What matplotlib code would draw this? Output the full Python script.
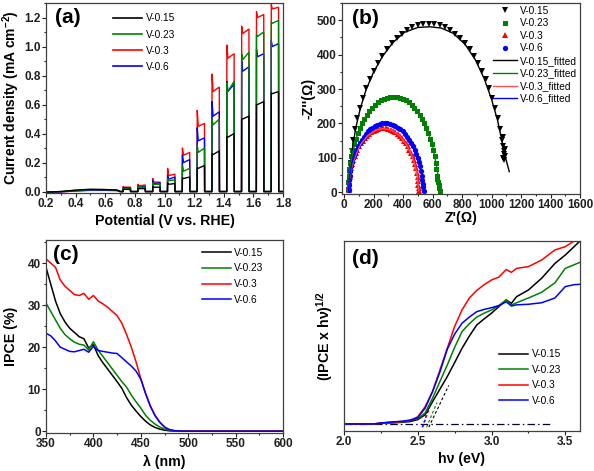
import matplotlib
matplotlib.use("Agg")
import matplotlib.pyplot as plt
from matplotlib.ticker import MultipleLocator, NullLocator
from matplotlib.lines import Line2D

plt.rcParams['font.family'] = ['Liberation Sans', 'DejaVu Sans']
plt.rcParams['font.weight'] = 'bold'
plt.rcParams['mathtext.fontset'] = 'custom'
plt.rcParams['mathtext.rm'] = 'Liberation Sans:bold'
plt.rcParams['mathtext.bf'] = 'Liberation Sans:bold'
plt.rcParams['mathtext.default'] = 'bf'

C_BLACK, C_GREEN, C_RED, C_BLUE = '#000000', '#008000', '#ff0000', '#0000ff'
labels = ['V-0.15', 'V-0.23', 'V-0.3', 'V-0.6']

# ---------------- (a) chopped LSV ----------------
bump_E = [0.2, 0.3, 0.4, 0.5, 0.6, 0.68]
bump_black = [-0.004, 0.0, 0.010, 0.016, 0.014, 0.010]
bump_green = [-0.004, 0.0, 0.008, 0.013, 0.013, 0.010]
bump_red = [-0.004, -0.002, 0.004, 0.008, 0.008, 0.006]
bump_blue = [-0.004, -0.002, 0.005, 0.010, 0.010, 0.008]
pulse_on = [0.72, 0.82, 0.92, 1.02, 1.12, 1.22, 1.32, 1.42, 1.52, 1.62, 1.72]
red_spike = [0.035, 0.05, 0.09, 0.16, 0.30, 0.56, 0.81, 1.01, 1.14, 1.24, 1.29]
red_dip = [0.03, 0.04, 0.065, 0.11, 0.25, 0.45, 0.69, 0.92, 1.09, 1.20, 1.26]
red_end = [0.03, 0.045, 0.065, 0.12, 0.27, 0.47, 0.72, 0.95, 1.12, 1.22, 1.27]
blue_spike = [0.03, 0.04, 0.075, 0.11, 0.25, 0.44, 0.62, 0.76, 0.90, 0.98, 1.04]
blue_dip = [0.025, 0.03, 0.055, 0.085, 0.20, 0.35, 0.52, 0.69, 0.83, 0.93, 1.00]
blue_end = [0.025, 0.035, 0.06, 0.10, 0.22, 0.37, 0.55, 0.74, 0.86, 0.95, 1.02]
green_spike = [0.02, 0.035, 0.06, 0.09, 0.18, 0.32, 0.50, 0.75, 0.95, 1.08, 1.17]
green_dip = [0.018, 0.03, 0.05, 0.075, 0.14, 0.27, 0.46, 0.69, 0.91, 1.07, 1.16]
green_end = [0.02, 0.03, 0.05, 0.08, 0.16, 0.30, 0.50, 0.76, 0.96, 1.10, 1.18]
black_spike = [0.015, 0.02, 0.035, 0.06, 0.095, 0.165, 0.26, 0.38, 0.50, 0.60, 0.68]
black_dip = [0.015, 0.02, 0.03, 0.05, 0.09, 0.16, 0.255, 0.375, 0.50, 0.60, 0.675]
black_end = [0.015, 0.02, 0.03, 0.055, 0.10, 0.18, 0.28, 0.40, 0.52, 0.62, 0.69]
pulse_width = 0.05

# ---------------- (b) Nyquist ----------------
b15_x = [35, 38, 43, 51, 61, 74, 90, 107, 127, 149, 174, 200, 228, 258, 289, 321, 355, 390, 426, 463, 500, 537,
         575, 611, 647, 683, 718, 753, 786, 819, 851, 881, 909, 936, 961, 985, 1006, 1025, 1042, 1057, 1070,
         1076, 1082, 1085, 1080, 1088, 1083, 1090, 1078]
b15_y = [17, 51, 85, 119, 151, 184, 215, 245, 274, 302, 328, 352, 375, 396, 416, 433, 448, 460, 471, 479, 485, 489,
         490, 489, 485, 479, 471, 460, 448, 433, 416, 396, 375, 352, 328, 302, 274, 245, 215, 184, 151,
         135, 120, 110, 100, 105, 95, 125, 160]
b23_x = [25, 27, 30, 34, 40, 48, 56, 67, 78, 91, 105, 120, 136, 153, 171, 189, 209, 229, 250, 271, 292, 313,
         335, 356, 377, 397, 418, 438, 457, 476, 494, 511, 528, 543, 558, 571, 584, 595, 605, 613, 620, 626, 630,
         633, 636, 640, 645, 648]
b23_y = [10, 29, 48, 67, 86, 104, 122, 139, 155, 171, 186, 200, 213, 225, 236, 245, 254, 261, 267, 272, 275, 277,
         278, 277, 275, 272, 267, 261, 254, 245, 236, 225, 213, 200, 186, 171, 155, 139, 122, 104, 86, 67, 48,
         40, 30, 20, 12, 5]
b3_x = [30, 31, 34, 37, 42, 47, 54, 62, 70, 80, 90, 102, 114, 127, 141, 155, 169, 185, 200, 216, 232, 249,
        265, 282, 298, 315, 331, 347, 363, 378, 392, 406, 419, 432, 443, 454, 464, 473, 481, 488, 493, 498, 501,
        503, 505, 507]
b3_y = [6, 19, 32, 45, 57, 70, 82, 93, 104, 115, 124, 134, 142, 150, 158, 164, 170, 175, 179, 182, 184, 186,
        186, 186, 184, 182, 179, 175, 170, 164, 158, 150, 142, 134, 124, 115, 104, 93, 82, 70, 57, 45, 32,
        22, 12, 3]
b6_x = [30, 31, 34, 37, 42, 48, 55, 63, 72, 82, 93, 105, 118, 131, 145, 160, 175, 191, 207, 224, 241, 258,
        275, 293, 311, 329, 347, 364, 381, 397, 413, 428, 442, 456, 468, 480, 490, 500, 509, 516, 522, 527, 531,
        534, 537, 540]
b6_y = [7, 21, 35, 48, 62, 75, 88, 100, 112, 123, 134, 144, 153, 162, 170, 177, 183, 188, 192, 196, 198, 200,
        200, 200, 198, 196, 192, 188, 183, 177, 170, 162, 153, 144, 134, 123, 112, 100, 88, 75, 62, 48, 35,
        25, 15, 5]
f15_x = [28, 35, 45, 60, 80, 110, 150, 200, 260, 330, 410, 500, 580, 660, 740, 820, 890, 950, 1000, 1040, 1070, 1095, 1120]
f15_y = [0, 40, 90, 140, 190, 245, 300, 350, 395, 435, 465, 479, 481, 477, 462, 430, 385, 330, 270, 210, 150, 100, 60]
f23_x = [22, 30, 50, 80, 120, 170, 230, 300, 340, 400, 460, 510, 560, 600, 625, 640, 650]
f23_y = [0, 50, 100, 155, 200, 236, 262, 276, 278, 272, 255, 226, 186, 135, 80, 40, 10]
f3_x = [28, 35, 50, 75, 110, 160, 215, 265, 320, 375, 420, 455, 480, 497, 505]
f3_y = [0, 35, 72, 105, 138, 165, 181, 185, 181, 165, 140, 112, 80, 45, 5]
f6_x = [28, 35, 50, 75, 110, 160, 220, 275, 330, 390, 440, 480, 510, 528, 538]
f6_y = [0, 40, 80, 115, 148, 177, 195, 199, 195, 180, 152, 120, 85, 45, 5]

# ---------------- (c) IPCE ----------------
wl = [350, 355, 360, 365, 370, 375, 380, 385, 390, 395, 400, 405, 410, 415, 420, 425, 430, 435, 440, 445,
      450, 455, 460, 465, 470, 475, 480, 485, 490, 500, 550, 600]
ipce_015 = [39, 35, 31, 28, 26, 24.5, 23.5, 22.5, 22, 19.8, 20.6, 18, 16.3, 14.8, 13.3, 11.8, 10.2, 8, 6.2, 4.8,
            3.5, 2.4, 1.5, 0.9, 0.5, 0.25, 0.1, 0.03, 0, 0, 0, 0]
ipce_023 = [30.5, 28.5, 26.5, 24.5, 23, 22, 21.2, 20.7, 20.5, 19.3, 21.3, 19.3, 17.8, 16.3, 14.8, 13.3, 11.8, 10.5,
            8.6, 7, 5.5, 3.8, 2.6, 1.7, 1.0, 0.5, 0.2, 0.07, 0, 0, 0, 0]
ipce_03 = [41, 40, 39, 36, 34.5, 33.5, 32.5, 32.3, 32.8, 31.4, 32.3, 31, 30.3, 29.5, 28.5, 27.5, 25.7, 23, 20,
           16.5, 12.5, 9, 6, 3.8, 2.2, 1.0, 0.4, 0.15, 0.05, 0, 0, 0]
ipce_06 = [23.3, 22.7, 21.5, 20, 19.5, 19, 18.9, 19.2, 19.5, 18.8, 20.2, 19.2, 19, 18.8, 18.6, 18.5, 17.5, 16.5,
           15.5, 14.3, 12.4, 9, 6, 3.7, 2.1, 1.0, 0.4, 0.15, 0.05, 0, 0, 0]

# ---------------- (d) Tauc-like ----------------
hv = [2.0, 2.2, 2.25, 2.3, 2.4, 2.45, 2.5, 2.55, 2.6, 2.65, 2.7, 2.75, 2.8, 2.85, 2.9, 2.95, 3.0, 3.05, 3.1,
      3.135, 3.17, 3.25, 3.34, 3.43, 3.5, 3.56, 3.6]
t_015 = [0.037, 0.037, 0.040, 0.042, 0.046, 0.050, 0.060, 0.085, 0.154, 0.22, 0.286, 0.36, 0.435, 0.50, 0.558,
         0.59, 0.62, 0.655, 0.69, 0.672, 0.707, 0.742, 0.804, 0.882, 0.926, 0.97, 1.0]
t_023 = [0.037, 0.037, 0.041, 0.043, 0.048, 0.055, 0.065, 0.095, 0.172, 0.26, 0.347, 0.44, 0.523, 0.565, 0.60,
         0.62, 0.637, 0.66, 0.69, 0.663, 0.675, 0.70, 0.73, 0.78, 0.856, 0.875, 0.888]
t_03 = [0.037, 0.037, 0.041, 0.045, 0.05, 0.055, 0.075, 0.128, 0.207, 0.32, 0.435, 0.55, 0.637, 0.70, 0.74,
        0.77, 0.795, 0.81, 0.85, 0.835, 0.856, 0.865, 0.90, 0.953, 0.97, 1.0, 1.02]
t_06 = [0.037, 0.037, 0.042, 0.046, 0.052, 0.058, 0.07, 0.12, 0.207, 0.31, 0.43, 0.51, 0.567, 0.60, 0.628,
        0.64, 0.649, 0.66, 0.68, 0.658, 0.664, 0.667, 0.675, 0.70, 0.76, 0.77, 0.772]
tan_x0 = [2.575, 2.56, 2.535, 2.53]
tan_y0 = [0.02, 0.02, 0.02, 0.02]
tan_x1 = [2.71, 2.63, 2.58, 2.57]
tan_y1 = [0.24, 0.15, 0.12, 0.11]
base_x = [2.0, 3.42]
base_y = [0.037, 0.037]

# ====================================================
fig = plt.figure(figsize=(5.94, 4.71), dpi=100)
W, H = 594, 471


def add_ax(l, r, t, b):
    return fig.add_axes([l / W, (H - b) / H, (r - l) / W, (b - t) / H])


axa = add_ax(46, 283, 3, 193)
axb = add_ax(342, 580, 3, 194)
axc = add_ax(46, 283, 240, 432.5)
axd = add_ax(344, 580, 241, 431)

TICK_FS = 8.5
LAB_FS = 10.2
LEG_FS = 7.3
SPINE_C = '#404040'


def style(ax):
    for s in ax.spines.values():
        s.set_color(SPINE_C)
        s.set_linewidth(0.9)
    ax.tick_params(which='both', direction='out', top=False, right=False, colors='#202020',
                   labelsize=TICK_FS, pad=1.2, width=0.8)
    ax.tick_params(which='major', length=2.6)
    ax.tick_params(which='minor', length=1.5)
    for lab in ax.get_xticklabels() + ax.get_yticklabels():
        lab.set_fontweight('bold')


def legend(ax, handles, labs, x, y, spacing, hlen=2.9):
    ax.legend(handles, labs, loc='upper left', bbox_to_anchor=(x, y), frameon=False,
              prop={'size': LEG_FS, 'weight': 'normal'}, handlelength=hlen, handletextpad=0.3,
              labelspacing=spacing, borderpad=0, borderaxespad=0)


def chopped(bvals, spike, dip, end):
    xs = list(bump_E)
    ys = list(bvals)
    xs.append(0.70)
    ys.append(0.0)
    for i, e0 in enumerate(pulse_on):
        xs += [e0, e0 + 0.001, e0 + 0.008, e0 + pulse_width, e0 + pulse_width + 0.001]
        ys += [0.0, spike[i], dip[i], end[i], 0.0]
    xs.append(1.8)
    ys.append(0.0)
    return xs, ys


# (a)
lw = 1.0
xr, yr = chopped(bump_red, red_spike, red_dip, red_end)
xb, yb = chopped(bump_blue, blue_spike, blue_dip, blue_end)
xg, yg = chopped(bump_green, green_spike, green_dip, green_end)
xk, yk = chopped(bump_black, black_spike, black_dip, black_end)
axa.plot(xr, yr, color=C_RED, lw=lw)
axa.plot(xb, yb, color=C_BLUE, lw=lw)
axa.plot(xg, yg, color=C_GREEN, lw=lw)
axa.plot(xk, yk, color=C_BLACK, lw=lw)
axa.set_xlim(0.2, 1.8)
axa.set_ylim(-0.01, 1.30)
axa.xaxis.set_major_locator(MultipleLocator(0.2))
axa.xaxis.set_minor_locator(MultipleLocator(0.1))
axa.yaxis.set_major_locator(MultipleLocator(0.2))
axa.yaxis.set_minor_locator(MultipleLocator(0.1))
axa.set_xlabel('Potential (V vs. RHE)', fontsize=LAB_FS, fontweight='bold')
axa.set_ylabel('Current density (mA cm$^{-2}$)', fontsize=10, fontweight='bold')
axa.xaxis.set_label_coords(0.5, -0.112)
axa.yaxis.set_label_coords(-0.103, 0.5)
style(axa)
ha = [Line2D([], [], color=c, lw=1.2) for c in (C_BLACK, C_GREEN, C_RED, C_BLUE)]
legend(axa, ha, labels, 0.283, 0.945, 0.6)
axa.text(0.04, 0.975, '(a)', transform=axa.transAxes, fontsize=15, fontweight='bold', va='top', ha='left')

# (b)
axb.plot(b15_x, b15_y, 'v', color=C_BLACK, ms=4.2, mew=0, label='V-0.15')
axb.plot(b23_x, b23_y, 's', color=C_GREEN, ms=3.6, mew=0, label='V-0.23')
axb.plot(b3_x, b3_y, '^', color=C_RED, ms=3.8, mew=0, label='V-0.3')
axb.plot(b6_x, b6_y, 'o', color=C_BLUE, ms=3.8, mew=0, label='V-0.6')
axb.plot(f15_x, f15_y, '-', color=C_BLACK, lw=1.0, label='V-0.15_fitted')
axb.plot(f23_x, f23_y, '-', color=C_GREEN, lw=1.0, label='V-0.23_fitted')
axb.plot(f3_x, f3_y, '-', color='#ff5050', lw=1.0, label='V-0.3_fitted')
axb.plot(f6_x, f6_y, '-', color=C_BLUE, lw=1.0, label='V-0.6_fitted')
axb.set_xlim(-15, 1600)
axb.set_ylim(-5, 550)
axb.xaxis.set_major_locator(MultipleLocator(200))
axb.xaxis.set_minor_locator(MultipleLocator(100))
axb.yaxis.set_major_locator(MultipleLocator(100))
axb.yaxis.set_minor_locator(MultipleLocator(50))
axb.set_xlabel("Z'(\u03a9)", fontsize=LAB_FS, fontweight='bold')
axb.set_ylabel("-Z''(\u03a9)", fontsize=LAB_FS, fontweight='bold')
axb.xaxis.set_label_coords(0.5, -0.088)
axb.yaxis.set_label_coords(-0.113, 0.5)
style(axb)
hb, lb = axb.get_legend_handles_labels()
legend(axb, hb, lb, 0.634, 0.985, 0.25, hlen=2.4)
axb.text(0.04, 0.97, '(b)', transform=axb.transAxes, fontsize=15, fontweight='bold', va='top', ha='left')

# (c)
axc.plot(wl, ipce_015, color=C_BLACK, lw=1.1, label='V-0.15')
axc.plot(wl, ipce_023, color=C_GREEN, lw=1.1, label='V-0.23')
axc.plot(wl, ipce_03, color=C_RED, lw=1.1, label='V-0.3')
axc.plot(wl, ipce_06, color=C_BLUE, lw=1.1, label='V-0.6')
axc.set_xlim(350, 600)
axc.set_ylim(-0.3, 45.5)
axc.xaxis.set_major_locator(MultipleLocator(50))
axc.xaxis.set_minor_locator(MultipleLocator(25))
axc.yaxis.set_major_locator(MultipleLocator(10))
axc.yaxis.set_minor_locator(MultipleLocator(5))
axc.set_xlabel('\u03bb (nm)', fontsize=LAB_FS, fontweight='bold')
axc.set_ylabel('IPCE (%)', fontsize=LAB_FS, fontweight='bold')
axc.xaxis.set_label_coords(0.5, -0.115)
axc.yaxis.set_label_coords(-0.118, 0.5)
style(axc)
hc, lc = axc.get_legend_handles_labels()
legend(axc, hc, lc, 0.658, 0.96, 0.56)
axc.text(0.03, 0.975, '(c)', transform=axc.transAxes, fontsize=15, fontweight='bold', va='top', ha='left')

# (d)
axd.plot(base_x, base_y, color='#000033', lw=0.9, ls=(0, (6, 2.5, 1.2, 2.5)))
for x0, y0, x1, y1, c in zip(tan_x0, tan_y0, tan_x1, tan_y1, (C_BLACK, C_GREEN, C_RED, C_BLUE)):
    axd.plot([x0, x1], [y0, y1], color=c, lw=0.8, ls=(0, (2.5, 2)))
axd.plot(hv, t_015, color=C_BLACK, lw=1.1, label='V-0.15')
axd.plot(hv, t_023, color=C_GREEN, lw=1.1, label='V-0.23')
axd.plot(hv, t_03, color=C_RED, lw=1.1, label='V-0.3')
axd.plot(hv, t_06, color=C_BLUE, lw=1.1, label='V-0.6')
axd.set_xlim(2.0, 3.6)
axd.set_ylim(0, 1.0)
axd.xaxis.set_major_locator(MultipleLocator(0.5))
axd.xaxis.set_minor_locator(MultipleLocator(0.25))
axd.yaxis.set_major_locator(NullLocator())
axd.set_xlabel('h\u03bd (eV)', fontsize=LAB_FS, fontweight='bold')
axd.set_ylabel('(IPCE x h\u03bd)$^{1/2}$', fontsize=LAB_FS, fontweight='bold')
axd.xaxis.set_label_coords(0.5, -0.108)
axd.yaxis.set_label_coords(-0.04, 0.5)
style(axd)
hd, ld = axd.get_legend_handles_labels()
legend(axd, hd, ld, 0.657, 0.43, 0.55)
axd.text(0.035, 0.96, '(d)', transform=axd.transAxes, fontsize=15, fontweight='bold', va='top', ha='left')

fig.savefig('out.png', dpi=100)
